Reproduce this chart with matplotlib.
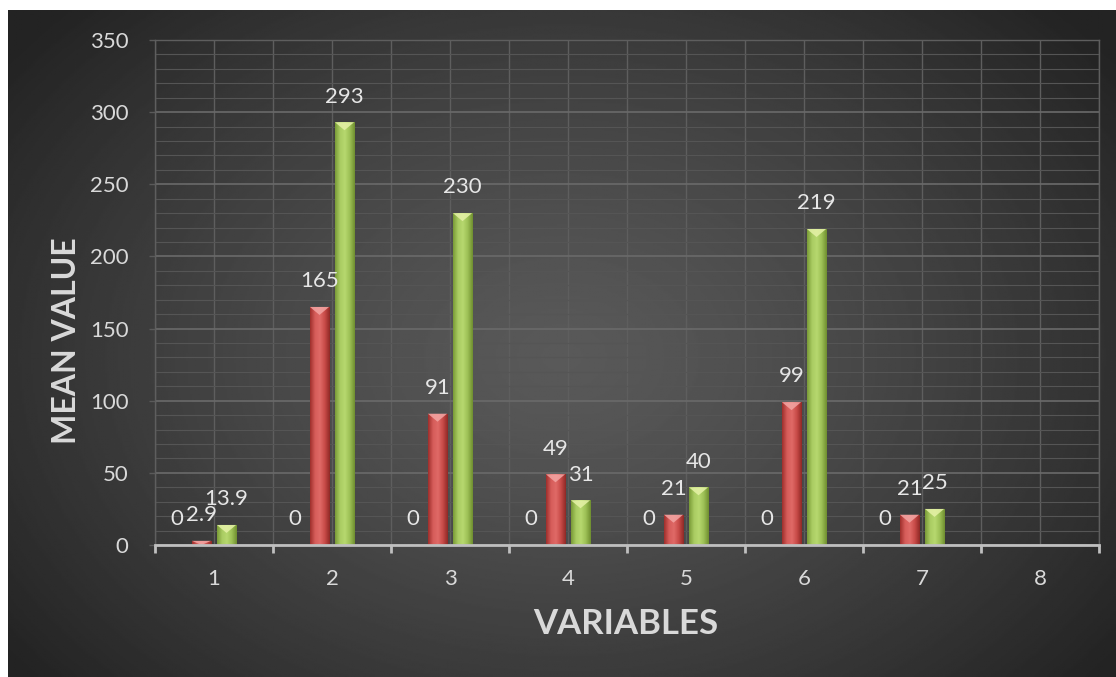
import numpy as np
import matplotlib.pyplot as plt
from matplotlib.colors import LinearSegmentedColormap
from matplotlib.patches import Polygon
from matplotlib.ticker import MultipleLocator, FixedLocator, NullFormatter

plt.rcParams['font.family'] = ['Lato', 'DejaVu Sans']

variables = [1, 2, 3, 4, 5, 6, 7, 8]
zero_vals = [0, 0, 0, 0, 0, 0, 0, None]
red_vals = [2.9, 165, 91, 49, 21, 99, 21, None]
green_vals = [13.9, 293, 230, 31, 40, 219, 25, None]

W, H = 1116, 677
fig = plt.figure(figsize=(W / 100, H / 100), dpi=100, facecolor='white')

# dark backdrop with a soft radial glow
bg = fig.add_axes([8 / W, 0, 1 - 8 / W, 667 / H])
bg.axis('off')
yy, xx = np.mgrid[0:1:400j, 0:1:600j]
d = np.sqrt(((xx - 0.5) / 0.62) ** 2 + ((yy - 0.52) / 0.75) ** 2)
glow = 0.35 - 0.21 * np.clip(d, 0, 1) ** 1.3
bg.imshow(glow, cmap='gray', vmin=0, vmax=1, aspect='auto', extent=[0, 1, 0, 1])
bg.set_xlim(0, 1)
bg.set_ylim(0, 1)

ax = fig.add_axes([155 / W, 132 / H, 944 / W, 505 / H])
ax.patch.set_alpha(0)

slot = 0.212
bar_w = 0.162
px_per_unit = 505 / 350

red_cmap = LinearSegmentedColormap.from_list('r', ['#9e2f2c', '#d65c5a', '#e06a67', '#c84b48', '#8f2926'])
green_cmap = LinearSegmentedColormap.from_list('g', ['#7a9b37', '#a9cc62', '#b7d86f', '#9cbf55', '#6f8f30'])
grad = np.linspace(0, 1, 64).reshape(1, -1)


def draw_series(vals, offset, cmap, cap_color):
    for x, v in zip(variables, vals):
        if v is None:
            continue
        xc = x + offset
        x0, x1 = xc - bar_w / 2, xc + bar_w / 2
        if v > 0:
            bar = ax.bar(xc, v, width=bar_w, color='none', edgecolor='none', zorder=3)[0]
            img = ax.imshow(grad, cmap=cmap, aspect='auto', extent=[x0, x1, 0, v], zorder=3)
            img.set_clip_path(bar)
            # bevelled top
            h = min(8 / px_per_unit, v)
            cap = Polygon([(x0, v), (x1, v), (xc, v - h)], closed=True,
                          facecolor=cap_color, edgecolor='none', alpha=0.85, zorder=4)
            ax.add_patch(cap)
        ax.annotate(f'{v:g}', (xc, v), xytext=(0, 18.5), textcoords='offset points',
                    ha='center', va='center', fontsize=16, color='#e6e6e6', zorder=5)


draw_series(zero_vals, -1.5 * slot, red_cmap, '#f0a0a0')
draw_series(red_vals, -0.5 * slot, red_cmap, '#f3a6a4')
draw_series(green_vals, 0.5 * slot, green_cmap, '#e6f2a8')

ax.set_xlim(0.5, 8.5)
ax.set_ylim(0, 350)

ax.xaxis.set_major_locator(FixedLocator(np.arange(0.5, 9, 1)))
ax.xaxis.set_major_formatter(NullFormatter())
ax.xaxis.set_minor_locator(FixedLocator(variables))
ax.set_xticklabels([str(v) for v in variables], minor=True)
ax.tick_params(axis='x', which='major', direction='out', length=6, width=2, color='#bfbfbf')
ax.tick_params(axis='x', which='minor', length=0, pad=17, labelsize=16, labelcolor='#d9d9d9')

ax.yaxis.set_major_locator(MultipleLocator(50))
ax.yaxis.set_minor_locator(MultipleLocator(10))
ax.tick_params(axis='y', which='major', direction='out', length=4, width=1, color='#5a5a5a',
               pad=15, labelsize=16, labelcolor='#d9d9d9')
ax.tick_params(axis='y', which='minor', length=0)

ax.grid(which='major', axis='y', color='#6a6a6a', linewidth=1.2, zorder=1)
ax.grid(which='minor', axis='y', color='#555555', linewidth=0.8, zorder=1)
ax.grid(which='both', axis='x', color='#5e5e5e', linewidth=1.0, zorder=1)
ax.set_axisbelow(True)

for side in ['left', 'top', 'right']:
    ax.spines[side].set_color('#5e5e5e')
    ax.spines[side].set_linewidth(1.0)
ax.spines['bottom'].set_color('#bfbfbf')
ax.spines['bottom'].set_linewidth(2)
ax.spines['bottom'].set_zorder(6)

fig.text(67 / W, 1 - 341 / H, 'MEAN VALUE', rotation=90, ha='center', va='center',
         fontsize=23, fontweight='bold', color='#d9d9d9')
fig.text(626 / W, 1 - 624 / H, 'VARIABLES', ha='center', va='center',
         fontsize=25, fontweight='bold', color='#d9d9d9')

fig.savefig('out.png', dpi=100, facecolor='white')
